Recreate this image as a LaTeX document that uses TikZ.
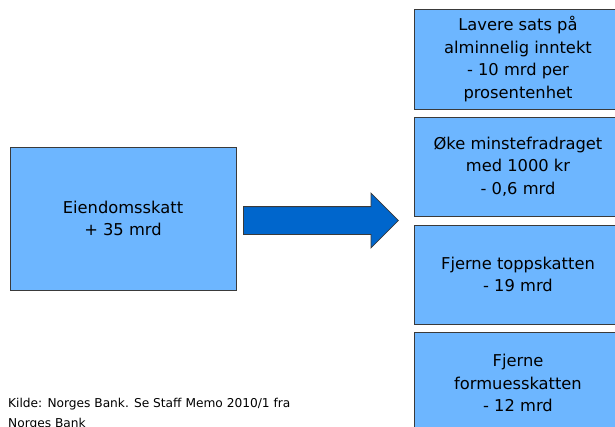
\documentclass[tikz,border=0pt]{standalone}
\usepackage{fontspec}
\setmainfont{DejaVu Sans}
\usetikzlibrary{shapes.arrows}

\definecolor{boksblaa}{HTML}{6DB6FF}
\definecolor{pilblaa}{HTML}{0066CC}
\definecolor{kant}{HTML}{3A3A3A}

\begin{document}
\begin{tikzpicture}[x=1pt, y=-1pt,
    boks/.style={draw=kant, line width=0.8pt, fill=boksblaa, align=center, inner sep=0pt,
      font=\fontsize{16.3}{22.5}\selectfont},
    tiltak/.style={boks, minimum width=208pt},
    pil/.style={single arrow, draw=kant, line width=0.8pt, fill=pilblaa, inner xsep=0pt, inner ysep=13.5pt,
      minimum height=155pt, minimum width=54pt,
      single arrow head extend=13.5pt, single arrow head indent=0pt}]
    \useasboundingbox (0,0) rectangle (615,426);
    \clip (0,0) rectangle (615,426);
    % Eiendomsskatt
    \node[boks, minimum width=226pt, minimum height=143pt] at (123,218.5) (eiendom) {Eiendomsskatt\\+ 35 mrd};
    % Tiltak
    \node[tiltak, minimum height=100pt] at (518,59)    (sats)   {Lavere sats på\\alminnelig inntekt\\- 10 mrd per\\prosentenhet};
    \node[tiltak, minimum height=99pt]  at (518,166.5) (fradrag) {Øke minstefradraget\\med 1000 kr\\- 0,6 mrd};
    \node[tiltak, minimum height=99pt]  at (518,274.5) (topp)   {Fjerne toppskatten\\- 19 mrd};
    \node[tiltak, minimum height=102pt] at (518,383)   (formue) {Fjerne\\formuesskatten\\- 12 mrd};
    % Pil
    \node[pil, anchor=tail] at (243,220.5) (pilen) {};
    % Kilde
    \node[anchor=north west, align=left, inner sep=0pt, font=\fontsize{12.2}{20}\selectfont] at (8,398) (kilde)
      {Kilde: Norges Bank. Se Staff Memo 2010/1 fra\\Norges Bank};
\end{tikzpicture}
\end{document}
